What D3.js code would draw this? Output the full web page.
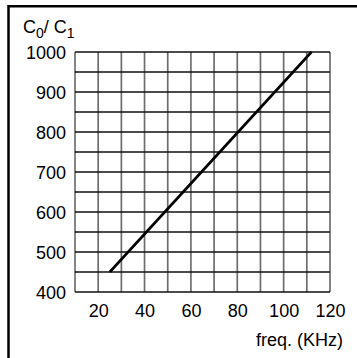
<!doctype html>
<html lang="en">
    <head>
        <meta charset="utf-8">
        <title>C0/C1 vs freq</title>
        <style>
            body { margin: 0; background: #fff; }
            text { font-family: "Liberation Sans", Arial, sans-serif; fill: #000; }
        </style>
    </head>
    <body>
        <svg></svg>
        <script src="https://d3js.org/d3.v7.min.js"></script>
        <script>
            //Chart data
            var freq = [25, 112];
            var ratio = [450, 1000];
            var xTicks = [20, 40, 60, 80, 100, 120];
            var yTicks = [400, 500, 600, 700, 800, 900, 1000];
            var xGrid = d3.range(10, 121, 10);
            var yGrid = d3.range(400, 1001, 50);

            var svgWidth = 357;
            var svgHeight = 358;

            var svg = d3.select("svg")
                .attr("width", svgWidth)
                .attr("height", svgHeight);

            //Outer frame, only left and top edges are in view
            svg.append("path")
                .attr("d", "M8.5," + svgHeight + "V6.3H" + svgWidth)
                .attr("fill", "none")
                .attr("stroke", "#000")
                .attr("stroke-width", 2.5);

            var x = d3.scaleLinear().domain([10, 120]).range([75, 330]);
            var y = d3.scaleLinear().domain([400, 1000]).range([292, 52]);

            //Grid
            svg.append("g").selectAll("line")
                .data(xGrid)
                .enter().append("line")
                .attr("x1", d => x(d)).attr("x2", d => x(d))
                .attr("y1", y(400)).attr("y2", y(1000))
                .attr("stroke", "#6e6e6e")
                .attr("stroke-width", 1.7);

            svg.append("g").selectAll("line")
                .data(yGrid)
                .enter().append("line")
                .attr("x1", x(10)).attr("x2", x(120))
                .attr("y1", d => y(d)).attr("y2", d => y(d))
                .attr("stroke", "#111")
                .attr("stroke-width", 1.6);

            //Axes (labels only)
            var yAxis = svg.append("g")
                .attr("transform", "translate(" + (x(10) - 9) + ",1)")
                .call(d3.axisLeft(y).tickValues(yTicks).tickFormat(d3.format("d")).tickSize(0).tickPadding(0));
            var xAxis = svg.append("g")
                .attr("transform", "translate(0," + (y(400) + 12) + ")")
                .call(d3.axisBottom(x).tickValues(xTicks).tickFormat(d3.format("d")).tickSize(0).tickPadding(0));
            [xAxis, yAxis].forEach(function(a){
                a.select(".domain").remove();
                a.selectAll("text")
                    .style("font-family", "'Liberation Sans', Arial, sans-serif")
                    .style("font-size", "18px")
                    .attr("fill", "#000");
            });

            //Data line
            var line = d3.line()
                .x(d => x(d[0]))
                .y(d => y(d[1]));
            svg.append("path")
                .datum(d3.zip(freq, ratio))
                .attr("d", line)
                .attr("fill", "none")
                .attr("stroke", "#000")
                .attr("stroke-width", 2.6);

            //Axis titles
            var yTitle = svg.append("text")
                .attr("x", 23)
                .attr("y", 33)
                .style("font-size", "18px");
            yTitle.append("tspan").text("C");
            yTitle.append("tspan").attr("dy", 5).style("font-size", "14px").text("0");
            yTitle.append("tspan").attr("dy", -5).text("/ C");
            yTitle.append("tspan").attr("dy", 5).style("font-size", "14px").text("1");

            svg.append("text")
                .attr("x", 343)
                .attr("y", 346)
                .attr("text-anchor", "end")
                .style("font-size", "18px")
                .text("freq. (KHz)");
        </script>
    </body>
</html>
